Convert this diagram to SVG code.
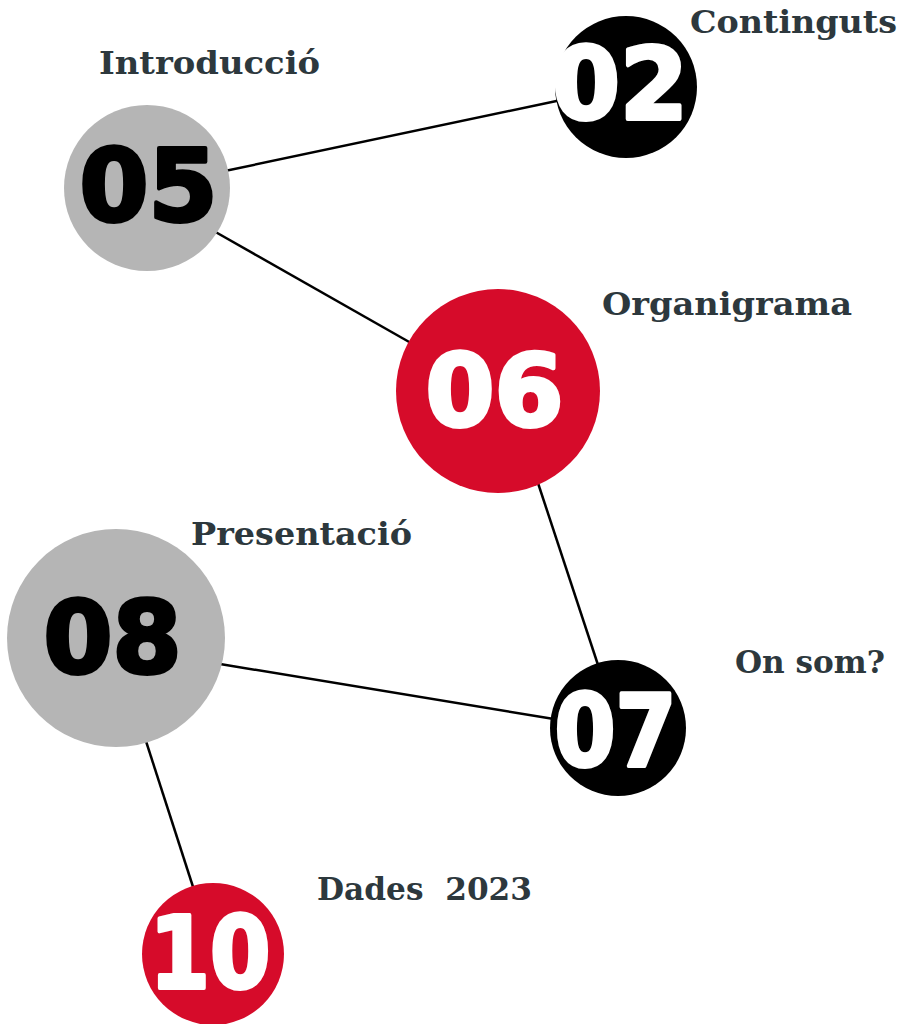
<svg xmlns="http://www.w3.org/2000/svg" width="906" height="1024" viewBox="0 0 906 1024">
<style>
.edge{stroke:#000;stroke-width:2.5;fill:none}
.gray{fill:#b5b5b5}
.red{fill:#d60b2a}
.black{fill:#000}
.num{font-family:"DejaVu Sans",sans-serif;font-weight:bold;font-size:99px;text-anchor:middle;stroke-width:4;stroke-linejoin:round}
.nw{fill:#fff;stroke:#fff}
.nb{fill:#000;stroke:#000}
.lbl{font-family:"DejaVu Serif","Liberation Serif",serif;font-weight:bold;font-size:32px;fill:#2d383d}
</style>
<rect width="906" height="1024" fill="#fff"/>
<g id="connectors">
<line class="edge" x1="220" y1="172" x2="566" y2="99"/>
<line class="edge" x1="212" y1="230" x2="418" y2="347"/>
<line class="edge" x1="536" y1="477" x2="600" y2="671"/>
<line class="edge" x1="214" y1="663" x2="560" y2="720"/>
<line class="edge" x1="144" y1="735" x2="195" y2="893"/>
</g>
<g id="node-02">
<circle class="black" cx="626" cy="87" r="71"/>
<text class="num nw" x="620" y="119" textLength="136" lengthAdjust="spacingAndGlyphs">02</text>
<text class="lbl" x="690" y="33" textLength="207" lengthAdjust="spacingAndGlyphs">Continguts</text>
</g>
<g id="node-05">
<circle class="gray" cx="147" cy="188" r="83"/>
<text class="num nb" x="148.5" y="221" textLength="138" lengthAdjust="spacingAndGlyphs">05</text>
<text class="lbl" x="99" y="74" textLength="221" lengthAdjust="spacingAndGlyphs">Introducció</text>
</g>
<g id="node-06">
<circle class="red" cx="498" cy="391" r="102"/>
<text class="num nw" x="494.5" y="426" textLength="138" lengthAdjust="spacingAndGlyphs">06</text>
<text class="lbl" x="602" y="315" textLength="250" lengthAdjust="spacingAndGlyphs">Organigrama</text>
</g>
<g id="node-08">
<circle class="gray" cx="116" cy="638" r="109"/>
<text class="num nb" x="112.5" y="673" textLength="138" lengthAdjust="spacingAndGlyphs">08</text>
<text class="lbl" x="191" y="545" textLength="221" lengthAdjust="spacingAndGlyphs">Presentació</text>
</g>
<g id="node-07">
<circle class="black" cx="618" cy="728" r="68"/>
<text class="num nw" x="615.5" y="766" textLength="122" lengthAdjust="spacingAndGlyphs">07</text>
<text class="lbl" x="735" y="673" textLength="150" lengthAdjust="spacingAndGlyphs">On som?</text>
</g>
<g id="node-10">
<circle class="red" cx="213" cy="954" r="71"/>
<text class="num nw" x="210" y="988" textLength="121" lengthAdjust="spacingAndGlyphs">10</text>
<text class="lbl" x="317" y="900" textLength="215" lengthAdjust="spacingAndGlyphs" xml:space="preserve">Dades  2023</text>
</g>
</svg>
